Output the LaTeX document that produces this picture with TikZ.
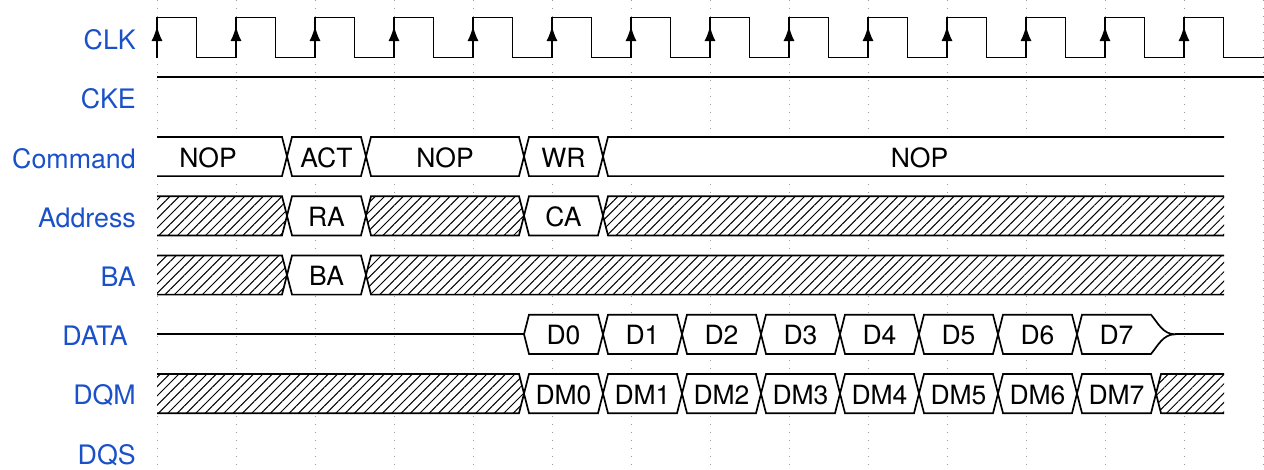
\documentclass[tikz,border=0pt]{standalone}
\usepackage{fontspec}
\setmainfont{TeX Gyre Heros}
\usetikzlibrary{arrows.meta,patterns.meta}
\definecolor{sigBlue}{HTML}{1A50C8}
\definecolor{gridGray}{HTML}{9A9A9A}

\begin{document}
\begin{tikzpicture}[x=1pt,y=-1pt,>=Latex,line join=miter]
\useasboundingbox (0,0) rectangle (1264,469);
\tikzset{sig/.style={draw=black,line width=1.7pt},grid/.style={draw=gridGray,line width=1pt,dash pattern=on 1.2pt off 6.8pt},signame/.style={anchor=east,inner sep=0pt,text=sigBlue,font=\fontsize{26.8}{32}\selectfont},val/.style={inner sep=0pt,text=black,font=\fontsize{26.5}{32}\selectfont},hatch/.style={sig,preaction={fill=white},pattern={Lines[angle=45,distance=6.6pt,line width=1pt]}}}
\foreach \k in {0,...,14} \draw[grid] (157+79*\k,0) -- (157+79*\k,469);
\node[signame] (lblClk) at (136,39.5) {CLK}; \node[signame] (lblCke) at (136,99) {CKE};
\node[signame] (lblCmd) at (136,158.5) {Command}; \node[signame] (lblAdr) at (136,217.5) {Address};
\node[signame] (lblBa) at (136,277) {BA}; \node[signame] (lblData) at (128,336) {DATA};
\node[signame] (lblDqm) at (136,395.5) {DQM}; \node[signame] (lblDqs) at (136,455) {DQS};
\draw[sig] (157,57.5) \foreach \k in {0,...,13}{ -- (157+79*\k,17.5) -- (196.5+79*\k,17.5) -- (196.5+79*\k,57.5) -- (236+79*\k,57.5)} -- (1264,57.5);
\foreach \k in {0,...,13} \draw[sig,-{Latex[length=15pt,width=11pt]}] (157+79*\k,57.5) -- (157+79*\k,26);
\draw[sig] (157,77.3) -- (1264,77.3);
\begin{scope}
\clip (157,0) rectangle (1224,469);
\foreach \a/\b/\t/\n in {129/287/NOP/cmdNop,287/366/ACT/cmdAct,366/524/NOP/cmdNopB,524/603/WR/cmdWr,603/1236/NOP/cmdNopC}{
\draw[sig,fill=white] (\a,156.5) -- (\a+5,136.9) -- (\b-5,136.9) -- (\b,156.5) -- (\b-5,176.1) -- (\a+5,176.1) -- cycle;
\node[val] (\n) at ({(\a+\b)/2},157.5) {\t};}
\foreach \a/\b/\y in {129/287/215.8,366/524/215.8,603/1236/215.8,129/287/275.0,366/1236/275.0,129/524/393.6,1156/1236/393.6}
\draw[hatch] (\a,\y) -- (\a+5,\y-19.6) -- (\b-5,\y-19.6) -- (\b,\y) -- (\b-5,\y+19.6) -- (\a+5,\y+19.6) -- cycle;
\foreach \a/\b/\y/\t/\n in {287/366/215.8/RA/adrRa,524/603/215.8/CA/adrCa,287/366/275.0/BA/bankBa}{
\draw[sig,fill=white] (\a,\y) -- (\a+5,\y-19.6) -- (\b-5,\y-19.6) -- (\b,\y) -- (\b-5,\y+19.6) -- (\a+5,\y+19.6) -- cycle;
\node[val] (\n) at ({(\a+\b)/2},\y+1) {\t};}
\draw[sig] (157,334.3) -- (524,334.3);
\foreach \i in {0,...,6}{
\draw[sig,fill=white] (524+79*\i,334.3) -- (529+79*\i,314.7) -- (598+79*\i,314.7) -- (603+79*\i,334.3) -- (598+79*\i,353.9) -- (529+79*\i,353.9) -- cycle;
\node[val] (data\i) at (563.5+79*\i,335.3) {D\i};}
\draw[sig,fill=white] (1077,334.3) -- (1082,314.7) -- (1151,314.7) .. controls (1158,323) and (1163,334.3) .. (1175,334.3) .. controls (1163,334.3) and (1158,345.6) .. (1151,353.9) -- (1082,353.9) -- cycle;
\node[val] (data7) at (1116.5,335.3) {D7};
\draw[sig] (1175,334.3) -- (1224,334.3);
\foreach \i in {0,...,7}{
\draw[sig,fill=white] (524+79*\i,393.6) -- (529+79*\i,374) -- (598+79*\i,374) -- (603+79*\i,393.6) -- (598+79*\i,413.2) -- (529+79*\i,413.2) -- cycle;
\node[val] (mask\i) at (563.5+79*\i,394.6) {DM\i};}
\end{scope}
\end{tikzpicture}
\end{document}
